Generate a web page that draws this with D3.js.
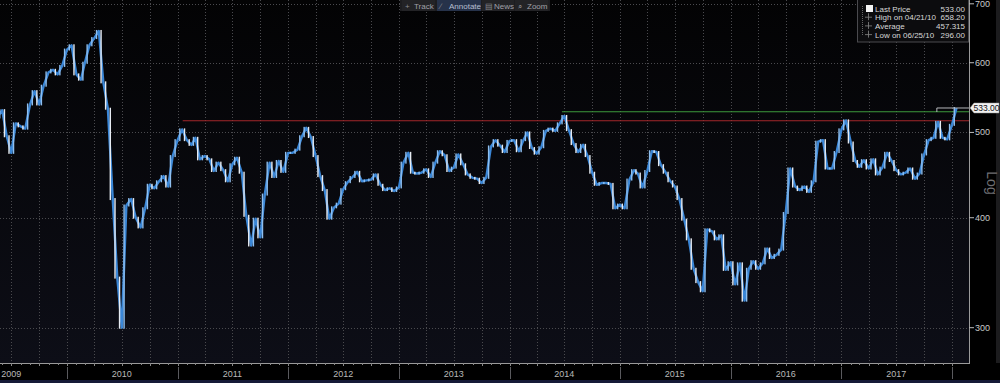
<!DOCTYPE html>
<html><head><meta charset="utf-8">
<script src="https://cdn.jsdelivr.net/npm/d3@7"></script>
<style>html,body{margin:0;padding:0;background:#000;overflow:hidden}svg{display:block}text{font-family:"Liberation Sans",Arial,sans-serif}</style>
</head><body><svg id="c" width="1000" height="383"></svg>
<script>
// ---- data (semi-monthly closes, starting 2009-05-16) ----
const startYear = 2009, startMonth = 4; // May (0-based)
const closes = [
520,530,495,474,512,508,505,538,557,538,565,585,589,582,595,621,628,582,574,600,
628,640,652,570,532,420,342,300,413,420,400,390,410,436,432,440,446,434,470,490,
504,490,484,493,466,470,466,452,462,453,440,460,468,450,402,372,399,380,425,462,
445,464,451,474,474,478,495,506,494,470,446,430,399,411,415,431,439,445,451,440,
441,442,448,436,430,432,429,433,462,474,450,449,450,454,445,462,476,471,452,456,
472,460,448,444,443,438,444,482,490,483,475,489,490,476,490,500,480,473,481,502,
505,502,512,522,503,485,475,484,470,450,436,438,438,437,410,414,410,442,453,449,
433,452,476,475,459,450,440,434,420,398,378,350,338,330,388,386,378,382,349,356,
336,355,322,350,357,350,355,369,360,363,368,405,455,434,430,434,428,440,488,490,
455,455,475,504,516,487,464,457,465,455,466,448,456,474,464,453,448,450,455,443,
449,472,490,493,514,493,491,510,533];
const dates = closes.map((_, k) => new Date(startYear, startMonth + Math.ceil(k / 2), k % 2 ? 1 : 16));
const yTicks = [300, 400, 500, 600, 700];
const yearLabels = ["2009","2010","2011","2012","2013","2014","2015","2016","2017"];
const legendLabels = ["Last Price", "High on 04/21/10", "Average", "Low on 06/25/10"];
const legendValues = ["533.00", "658.20", "457.315", "296.00"];
const lastPrice = 533.00;
const redLevel = 515.5, redStart = "2011-01-18";
const greenLevel = 527.8, greenStart = "2014-06-23";
const lastMarkStart = "2017-11-12";
const toolbarItems = ["Track", "Annotate", "News", "Zoom"];
const toolbarIcons = ["+", "\u2215", "\u25A4", "\u2315"];

// ---- layout ----
const svg = d3.select("#c");
const W = 1000, H = 383, plotR = 969, plotB = 363;
const x = d3.scaleTime().domain([new Date(2010,0,1), new Date(2018,0,1)]).range([67, 952]);
const y = d3.scaleLog().domain([300, 700]).range([327.7, 3.8]);

const defs = svg.append("defs");
const g1 = defs.append("linearGradient").attr("id","bg").attr("x1",0).attr("y1",0).attr("x2",0).attr("y2",1);
g1.append("stop").attr("offset","0%").attr("stop-color","#030304");
g1.append("stop").attr("offset","100%").attr("stop-color","#0d0e17");
defs.append("clipPath").attr("id","clip").append("rect").attr("x",0).attr("y",0).attr("width",plotR).attr("height",plotB);

svg.append("rect").attr("width",W).attr("height",H).attr("fill","#000");
svg.append("rect").attr("width",plotR).attr("height",plotB).attr("fill","url(#bg)");
svg.append("rect").attr("x",996).attr("y",0).attr("width",4).attr("height",plotB).attr("fill","#1c1c1e");
svg.append("rect").attr("x",0).attr("y",380).attr("width",W).attr("height",3).attr("fill","#151a38");

// grid
const grid = svg.append("g").attr("clip-path","url(#clip)");
const quarters = d3.timeMonth.every(3).range(new Date(2009,3,1), new Date(2018,1,1));
grid.selectAll("line.v").data(quarters).join("line")
  .attr("x1", d => Math.round(x(d)) + 0.5).attr("x2", d => Math.round(x(d)) + 0.5)
  .attr("y1", 0).attr("y2", plotB)
  .attr("stroke", "#4a4a4e").attr("stroke-width", 1).attr("stroke-dasharray", "1,2");
grid.selectAll("line.h").data(yTicks).join("line")
  .attr("x1", 0).attr("x2", plotR)
  .attr("y1", d => Math.round(y(d)) + 0.5).attr("y2", d => Math.round(y(d)) + 0.5)
  .attr("stroke", "#4a4a4e").attr("stroke-width", 1).attr("stroke-dasharray", "1,2");

// reference lines
const refs = svg.append("g");
refs.append("line").attr("x1", x(new Date(redStart))).attr("x2", plotR)
  .attr("y1", y(redLevel)).attr("y2", y(redLevel)).attr("stroke", "#a3272b").attr("stroke-width", 1.2);
refs.append("line").attr("x1", x(new Date(greenStart))).attr("x2", plotR)
  .attr("y1", y(greenLevel)).attr("y2", y(greenLevel)).attr("stroke", "#3d9a3d").attr("stroke-width", 1.2);

// price series
const series = svg.append("g").attr("clip-path","url(#clip)");
const line = d3.line().x((d,i) => x(dates[i])).y(d => y(d));
series.append("path").datum(closes).attr("d", line).attr("fill","none")
  .attr("stroke","#3a86d6").attr("stroke-width",2.4).attr("stroke-linejoin","round");
const pairs = closes.slice(1).map((c,i) => ({d0: dates[i], d: dates[i+1], p: closes[i], c}));
series.selectAll("rect.bar").data(pairs).join("rect")
  .attr("x", d => (x(d.d0) + x(d.d)) / 2 - 0.7).attr("width", 1.4)
  .attr("y", d => Math.min(y(d.p), y(d.c)) - 1)
  .attr("height", d => Math.abs(y(d.p) - y(d.c)) + 2)
  .attr("fill", d => d.c >= d.p ? "#8fbfef" : "#e6ebf2");

// last price marker line
const ly = y(lastPrice);
svg.append("path").attr("d", `M${x(new Date(lastMarkStart))},${ly+4}V${ly}H${plotR}`)
  .attr("fill","none").attr("stroke","#b5b8bc").attr("stroke-width",1);

// right axis
svg.append("line").attr("x1", plotR+0.5).attr("x2", plotR+0.5).attr("y1", 0).attr("y2", plotB)
  .attr("stroke", "#9a9a9a");
const ra = svg.append("g");
ra.selectAll("line").data(yTicks).join("line")
  .attr("x1", plotR).attr("x2", plotR+5).attr("y1", d => y(d)).attr("y2", d => y(d)).attr("stroke","#bbb");
ra.selectAll("text").data(yTicks).join("text")
  .attr("x", plotR+6).attr("y", d => y(d)+3).attr("fill","#c8c8c8").attr("font-size",9).text(d => d);
svg.append("text").attr("transform","translate(987,183) rotate(90)").attr("text-anchor","middle")
  .attr("fill","#6f6f73").attr("font-size",14).text("Log");

// last price label
const lb = svg.append("g").attr("transform", `translate(${plotR+1},${ly})`);
lb.append("path").attr("d","M0,0 L4,-5 H29 V5 H4 Z").attr("fill","#f2f2f2").attr("stroke","#999").attr("stroke-width",0.5);
lb.append("text").attr("x",16.5).attr("y",3).attr("text-anchor","middle").attr("font-size",8.5)
  .attr("fill","#111").text(lastPrice.toFixed(2));

// bottom axis
svg.append("line").attr("x1",0).attr("x2",plotR+1).attr("y1",plotB+0.5).attr("y2",plotB+0.5).attr("stroke","#9a9a9a");
const months = d3.timeMonth.every(1).range(new Date(2009,3,1), new Date(2018,1,1));
svg.append("g").selectAll("line").data(months).join("line")
  .attr("x1", d => Math.round(x(d))+0.5).attr("x2", d => Math.round(x(d))+0.5)
  .attr("y1", plotB).attr("y2", d => d.getMonth()%3===0 ? plotB+3 : plotB+2).attr("stroke","#888");
const yearStarts = d3.range(2010, 2019).map(yr => new Date(yr,0,1));
svg.append("g").selectAll("line").data(yearStarts).join("line")
  .attr("x1", d => Math.round(x(d))+0.5).attr("x2", d => Math.round(x(d))+0.5)
  .attr("y1", plotB+4).attr("y2", 379).attr("stroke","#5a5a5e");
svg.append("g").selectAll("text").data(yearLabels).join("text")
  .attr("x", d => x(new Date(+d, 6, 1))).attr("y", 377).attr("text-anchor","middle")
  .attr("fill","#b8b8b8").attr("font-size",9).text(d => d);

// toolbar
const tb = svg.append("g");
tb.append("rect").attr("x",400).attr("y",0).attr("width",150).attr("height",11).attr("fill","#1d1d20");
const tbX = [402, 437, 482, 515], tbW = [33, 44, 32, 33];
toolbarItems.forEach((t,i) => {
  tb.append("rect").attr("x",tbX[i]).attr("y",0).attr("width",tbW[i]).attr("height",11)
    .attr("fill", i===1 ? "#26324a" : "#232326");
  tb.append("text").attr("x",tbX[i]+3).attr("y",8.5).attr("fill","#8a8a90").attr("font-size",8).text(toolbarIcons[i]);
  tb.append("text").attr("x",tbX[i]+12).attr("y",8.5).attr("fill", i===1 ? "#b6bfd0" : "#a0a0a6").attr("font-size",8).text(t);
});

// legend
const lg = svg.append("g");
lg.append("rect").attr("x",857.5).attr("y",-1).attr("width",111).attr("height",43).attr("fill","#0c0c0e")
  .attr("stroke","#4a4a4e");
lg.append("line").attr("x1",862.5).attr("x2",862.5).attr("y1",6).attr("y2",36).attr("stroke","#666").attr("stroke-dasharray","1,1");
lg.append("rect").attr("x",866).attr("y",5).attr("width",7).attr("height",7).attr("fill","#f4f4f4");
legendLabels.forEach((t,i) => {
  const ty = 11.5 + i*8.7;
  if (i>0) {
    lg.append("line").attr("x1",865).attr("x2",872).attr("y1",ty-3).attr("y2",ty-3).attr("stroke","#888").attr("stroke-width",0.8);
    lg.append("line").attr("x1",868.5).attr("x2",868.5).attr("y1",ty-7).attr("y2",ty).attr("stroke","#888").attr("stroke-width",0.8);
  }
  lg.append("text").attr("x",875).attr("y",ty).attr("fill","#d8d8d8").attr("font-size",8).text(t);
  lg.append("text").attr("x",965).attr("y",ty).attr("text-anchor","end").attr("fill","#d8d8d8").attr("font-size",8).text(legendValues[i]);
});
</script></body></html>
